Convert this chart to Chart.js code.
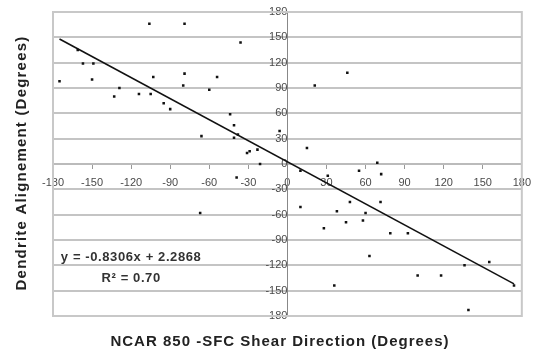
<!DOCTYPE html>
<html>
<head>
<meta charset="utf-8">
<script src="https://cdn.jsdelivr.net/npm/chart.js@4/dist/chart.umd.min.js"></script>
<style>
  body { margin: 0; background: #fff; }
  #wrap { width: 539px; height: 352px; position: relative; }
</style>
</head>
<body>
<div id="wrap"><canvas id="shearChart"></canvas></div>
<script>
// shear direction (x) vs dendrite alignment (y)
const shearDir = [-175, -161, -157, -149, -150, -129, -133, -114, -105, -106, -79, -103, -79, -80,
    -95, -90, -60, -54, -66, -44, -41, -41, -38, -36, -31, -29, -23, -21, -6, -39, -67,
    21, 46, 15, 10, 31, 55, 69, 72, 48, 71.5, 10, 38, 60, 45, 58, 28, 79, 92.5, 63,
    100, 118, 136, 155, 36, 174, 139];
const alignment = [98, 135, 119, 119, 100, 90, 80, 83, 83, 166, 166, 103, 107, 93,
    72, 65, 88, 103, 33, 59, 46, 31, 35, 144, 13, 15, 17, 0, 39, -16, -58,
    93, 108, 19, -8, -14, -8, 1.5, -12, -45, -45, -51, -56, -58, -69, -67, -76, -82, -82, -109,
    -132, -132, -120, -116, -144, -144, -173];

// linear trendline end points
const trendX = [-175, 174];
const trendY = [148, -142];

const axisTicks = [-180, -150, -120, -90, -60, -30, 0, 30, 60, 90, 120, 150, 180];
const eqText = 'y = -0.8306x + 2.2868';
const r2Text = 'R² = 0.70';
const xTitle = 'NCAR 850 -SFC Shear Direction (Degrees)';
const yTitle = 'Dendrite Alignement (Degrees)';

const points = shearDir.map((x, i) => ({ x: x, y: alignment[i] }));
const trend = trendX.map((x, i) => ({ x: x, y: trendY[i] }));

const extras = {
    id: 'extras',
    beforeDatasetsDraw(chart) {
        const ctx = chart.ctx;
        const a = chart.chartArea;
        ctx.save();
        ctx.strokeStyle = '#c8c8c8';
        ctx.lineWidth = 2;
        ctx.strokeRect(a.left, a.top, a.right - a.left, a.bottom - a.top);
        ctx.restore();
    },
    afterDraw(chart) {
        const ctx = chart.ctx;
        const xs = chart.scales.x, ys = chart.scales.y;
        ctx.save();
        ctx.fillStyle = '#333';
        ctx.font = 'bold 13px "Liberation Sans", Arial, sans-serif';
        ctx.letterSpacing = '0.6px';
        ctx.textAlign = 'center';
        ctx.textBaseline = 'middle';
        ctx.fillText(eqText, xs.getPixelForValue(-120), ys.getPixelForValue(-111));
        ctx.fillText(r2Text, xs.getPixelForValue(-120), ys.getPixelForValue(-136));

        ctx.fillStyle = '#222';
        ctx.font = 'bold 15px "Liberation Sans", Arial, sans-serif';
        ctx.letterSpacing = '1px';
        ctx.fillText(xTitle, 280, 342);
        ctx.translate(22, 163);
        ctx.rotate(-Math.PI / 2);
        ctx.letterSpacing = '1.2px';
        ctx.fillText(yTitle, 0, 0);
        ctx.restore();
    }
};

new Chart(document.getElementById('shearChart'), {
    type: 'scatter',
    data: {
        datasets: [{
            label: 'obs',
            data: points,
            backgroundColor: '#111',
            borderColor: '#111',
            pointStyle: 'rect',
            pointRadius: 1.8,
            borderWidth: 0
        }, {
            type: 'line',
            label: 'trend',
            data: trend,
            borderColor: '#111',
            borderWidth: 1.6,
            pointRadius: 0,
            fill: false
        }]
    },
    options: {
        responsive: true,
        maintainAspectRatio: false,
        animation: false,
        layout: { padding: { left: 53, right: 14, top: 12, bottom: 36 } },
        plugins: { legend: { display: false }, tooltip: { enabled: false } },
        scales: {
            x: {
                type: 'linear',
                position: { y: 0 },
                min: -180, max: 180,
                afterBuildTicks: s => { s.ticks = axisTicks.map(v => ({ value: v })); },
                grid: { drawOnChartArea: false, tickLength: 4, color: '#999' },
                border: { color: '#bbb', width: 2 },
                ticks: {
                    padding: 8,
                    maxRotation: 0,
                    autoSkip: false,
                    color: '#4a4a4a',
                    font: { family: '"Liberation Sans", Arial, sans-serif', size: 11 }
                }
            },
            y: {
                type: 'linear',
                position: { x: 0 },
                min: -180, max: 180,
                afterBuildTicks: s => { s.ticks = axisTicks.map(v => ({ value: v })); },
                grid: { color: '#c4c4c4', lineWidth: 2, tickLength: 4 },
                border: { color: '#888', width: 1 },
                ticks: {
                    padding: 3,
                    autoSkip: false,
                    color: '#4a4a4a',
                    font: { family: '"Liberation Sans", Arial, sans-serif', size: 11 }
                }
            }
        }
    },
    plugins: [extras]
});
</script>
</body>
</html>
